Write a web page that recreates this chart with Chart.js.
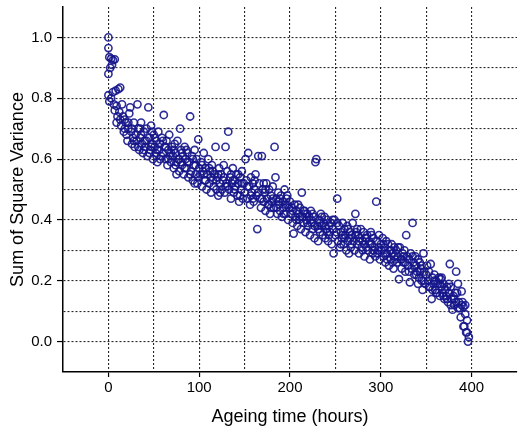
<!DOCTYPE html>
<html>
<head>
<meta charset="utf-8">
<script src="https://cdn.jsdelivr.net/npm/chart.js@4/dist/chart.umd.min.js"></script>
<style>
  html, body { margin: 0; padding: 0; background: #fff; }
  #wrap { width: 518px; height: 434px; }
</style>
</head>
<body>
<div id="wrap"><canvas id="c" width="518" height="434"></canvas></div>
<script>
// Ageing time (hours) / Sum of Square Variance
const earlyPhase = [
  [0,1.0],[0,0.965],[1,0.935],[3,0.93],[5,0.925],[7,0.928],[2,0.90],[4,0.91],[0,0.88],[0,0.81],
  [1,0.79],[3,0.80],[5,0.82],[8,0.825],[11,0.83],[13,0.835],[6,0.78],[7,0.76],[9,0.775],[10,0.74],
  [9,0.72],[12,0.755],[13,0.73],[14,0.71],[15,0.78],[16,0.74],[17,0.69],[18,0.70],[19,0.72],[20,0.68],
  [21,0.66],[22,0.70],[23,0.75],[24,0.77],[25,0.69],[26,0.65],[27,0.67],[28,0.72],[29,0.64],[30,0.68],
  [31,0.66],[32,0.78],[33,0.70],[34,0.63],[35,0.67],[36,0.72],[37,0.65],[38,0.62],[39,0.69],[40,0.66],
  [41,0.64],[42,0.70],[43,0.61],[44,0.77],[45,0.67],[46,0.63],[47,0.71],[48,0.65],[49,0.60],[50,0.68],
  [51,0.64],[52,0.62],[53,0.66],[54,0.59],[55,0.69],[56,0.63],[57,0.65],[58,0.61],[59,0.67],[60,0.62],
  [61,0.745],[62,0.64],[63,0.60],[64,0.66],[65,0.58],[66,0.63],[67,0.68],[68,0.61],[69,0.59],[70,0.64],
  [33,0.64],[36,0.68],[39,0.63],[42,0.66],[45,0.62],[48,0.69],[51,0.67],[54,0.63],[57,0.60],[60,0.66],
  [63,0.64],[66,0.60],[69,0.62],[26,0.70],[28,0.66],[22,0.72],[18,0.73],[35,0.70],[47,0.64],[53,0.61]
];
const midPhase = [
  [71,0.61],[72,0.57],[73,0.65],[74,0.62],[75,0.59],[76,0.66],[77,0.60],[78,0.56],[79,0.70],[80,0.63],
  [81,0.58],[82,0.61],[83,0.55],[84,0.64],[85,0.60],[86,0.57],[87,0.62],[88,0.54],[89,0.59],[90,0.74],
  [91,0.56],[92,0.61],[93,0.53],[94,0.58],[95,0.63],[96,0.55],[97,0.60],[98,0.52],[99,0.665],[100,0.57],
  [72,0.63],[75,0.55],[78,0.60],[81,0.62],[84,0.57],[87,0.59],[90,0.55],[93,0.60],[96,0.58],[99,0.54],
  [74,0.58],[86,0.63],[95,0.52],[80,0.59],
  [101,0.55],[102,0.59],[103,0.51],[104,0.56],[105,0.62],[106,0.53],[107,0.57],[108,0.50],[109,0.55],[110,0.60],
  [111,0.52],[112,0.56],[113,0.49],[114,0.58],[115,0.53],[116,0.51],[117,0.55],[118,0.64],[119,0.50],[120,0.54],
  [121,0.48],[122,0.57],[123,0.52],[124,0.55],[125,0.50],[126,0.53],[127,0.58],[128,0.49],[129,0.64],[130,0.52],
  [131,0.56],[132,0.69],[133,0.50],[134,0.54],[135,0.47],[136,0.52],[137,0.57],[138,0.49],[139,0.53],[140,0.51],
  [141,0.55],[142,0.48],[143,0.52],[144,0.46],[145,0.54],[146,0.50],[147,0.56],[148,0.47],[149,0.52],[150,0.49],
  [103,0.58],[107,0.53],[111,0.57],[115,0.56],[119,0.53],[123,0.49],[127,0.54],[131,0.51],[135,0.55],[139,0.50],
  [143,0.55],[147,0.52],[105,0.55],[113,0.54],[121,0.55],[129,0.51],[137,0.53],[145,0.48],
  [151,0.60],[152,0.53],[153,0.47],[154,0.62],[155,0.51],[156,0.45],[157,0.54],[158,0.49],[159,0.52],[160,0.46],
  [161,0.50],[162,0.55],[163,0.48],[164,0.37],[165,0.61],[166,0.52],[167,0.47],[168,0.44],[169,0.61],[170,0.50],
  [171,0.46],[172,0.49],[173,0.43],[174,0.52],[175,0.47],[176,0.45],[177,0.50],[178,0.42],[179,0.48],[180,0.46],
  [181,0.51],[182,0.44],[183,0.64],[184,0.54],[185,0.47],[186,0.42],[187,0.49],[188,0.45],[189,0.43],[190,0.48],
  [191,0.41],[192,0.46],[193,0.44],[194,0.50],[195,0.42],[196,0.47],[197,0.45],[198,0.40],[199,0.44],[200,0.46],
  [153,0.51],[157,0.48],[161,0.53],[165,0.49],[169,0.47],[173,0.50],[177,0.45],[181,0.47],[185,0.44],[189,0.47],
  [193,0.42],[197,0.48],[159,0.47],[171,0.52],[179,0.44],[187,0.46],[195,0.45]
];
const latePhase = [
  [201,0.42],[202,0.44],[203,0.39],[204,0.355],[205,0.45],[206,0.41],[207,0.43],[208,0.38],[209,0.42],[210,0.40],
  [211,0.44],[212,0.37],[213,0.49],[214,0.41],[215,0.39],[216,0.43],[217,0.36],[218,0.40],[219,0.42],[220,0.38],
  [221,0.41],[222,0.35],[223,0.43],[224,0.39],[225,0.37],[226,0.41],[227,0.34],[228,0.59],[229,0.60],[230,0.38],
  [231,0.33],[232,0.40],[233,0.36],[234,0.42],[235,0.38],[236,0.35],[237,0.39],[238,0.41],[239,0.34],[240,0.37],
  [241,0.40],[242,0.33],[243,0.38],[244,0.36],[245,0.39],[246,0.32],[247,0.37],[248,0.29],[249,0.40],[250,0.35],
  [203,0.43],[207,0.40],[211,0.41],[215,0.43],[219,0.39],[223,0.40],[227,0.38],[231,0.37],[235,0.41],[239,0.38],
  [243,0.35],[247,0.40],[209,0.45],[217,0.42],[225,0.42],[233,0.39],[241,0.36],[252,0.47],
  [251,0.36],[253,0.33],[254,0.38],[255,0.31],[256,0.36],[257,0.34],[258,0.39],[259,0.32],[260,0.37],[261,0.35],
  [262,0.30],[263,0.38],[264,0.33],[265,0.29],[266,0.36],[267,0.31],[268,0.35],[269,0.39],[270,0.33],[271,0.30],
  [272,0.42],[273,0.36],[274,0.32],[275,0.35],[276,0.29],[277,0.34],[278,0.37],[279,0.31],[280,0.33],[281,0.36],
  [282,0.28],[283,0.34],[284,0.31],[285,0.35],[286,0.30],[287,0.33],[288,0.27],[289,0.36],[290,0.32],[291,0.29],
  [292,0.34],[293,0.31],[294,0.28],[295,0.46],[296,0.33],[297,0.30],[298,0.35],[299,0.27],[300,0.32],
  [252,0.39],[256,0.32],[260,0.34],[264,0.37],[268,0.32],[272,0.35],[276,0.33],[280,0.30],[284,0.34],[288,0.32],
  [292,0.30],[296,0.29],[258,0.35],[266,0.34],[274,0.37],[282,0.32],[290,0.35],[298,0.31]
];
const endPhase = [
  [301,0.30],[302,0.34],[303,0.28],[304,0.31],[305,0.26],[306,0.33],[307,0.29],[308,0.32],[309,0.25],[310,0.30],
  [311,0.27],[312,0.32],[313,0.29],[314,0.24],[315,0.31],[316,0.27],[317,0.30],[318,0.26],[319,0.28],[320,0.205],
  [321,0.31],[322,0.27],[323,0.24],[324,0.29],[325,0.26],[326,0.30],[327,0.23],[328,0.35],[329,0.28],[330,0.25],
  [331,0.27],[332,0.195],[333,0.29],[334,0.24],[335,0.39],[336,0.26],[337,0.22],[338,0.28],[339,0.25],[340,0.23],
  [341,0.27],[342,0.21],[343,0.26],[344,0.24],[345,0.20],[346,0.17],[347,0.29],[348,0.23],[349,0.19],[350,0.22],
  [303,0.32],[307,0.27],[311,0.30],[315,0.28],[319,0.31],[323,0.27],[327,0.26],[331,0.23],[335,0.28],[339,0.22],
  [343,0.23],[347,0.20],[305,0.29],[313,0.26],[325,0.28],[337,0.25],[345,0.25],[341,0.19],
  [351,0.25],[352,0.20],[353,0.23],[354,0.18],[355,0.255],[356,0.14],[357,0.21],[358,0.19],[359,0.22],[360,0.17],
  [361,0.20],[362,0.16],[363,0.19],[364,0.21],[365,0.15],[366,0.205],[367,0.18],[368,0.16],[369,0.19],[370,0.14],
  [371,0.17],[372,0.15],[373,0.18],[374,0.13],[375,0.16],[376,0.255],[377,0.18],[378,0.14],[379,0.105],[380,0.15],
  [381,0.12],[382,0.16],[383,0.23],[384,0.16],[385,0.19],[386,0.13],[387,0.11],[388,0.08],[389,0.165],[390,0.13],
  [391,0.115],[392,0.05],[393,0.09],[394,0.03],[395,0.07],[396,0.0],[397,0.015],[391,0.05],[395,0.03],[393,0.12],
  [353,0.18],[357,0.17],[361,0.16],[365,0.19],[369,0.15],[373,0.14],[377,0.12],[381,0.14],[385,0.11],[389,0.12],
  [359,0.20],[367,0.21],[375,0.19],[383,0.13]
];

const xTitle = 'Ageing time (hours)';
const yTitle = 'Sum of Square Variance';
const xMajorTicks = [0, 100, 200, 300, 400];
const yMajorTicks = [0.0, 0.2, 0.4, 0.6, 0.8, 1.0];

const allSamples = [].concat(earlyPhase, midPhase, latePhase, endPhase);
const points = allSamples.map(p => ({ x: p[0], y: p[1] }));

const FONT = "'Liberation Sans', Arial, sans-serif";
const GRID = 'rgba(30,30,30,0.95)';

function isMajorX(v) { return xMajorTicks.some(t => Math.abs(t - v) < 1e-6); }
function isMajorY(v) { return yMajorTicks.some(t => Math.abs(t - v) < 1e-6); }

new Chart(document.getElementById('c'), {
  type: 'scatter',
  data: {
    datasets: [{
      data: points,
      pointStyle: 'circle',
      pointRadius: 3.6,
      pointBorderWidth: 1.6,
      pointBorderColor: 'rgba(22,22,140,0.9)',
      pointBackgroundColor: 'rgba(255,255,255,0)',
      pointHoverRadius: 3.6
    }]
  },
  options: {
    responsive: false,
    animation: false,
    devicePixelRatio: 1,
    layout: { autoPadding: false, padding: { top: 7, right: 1, left: 0, bottom: 0 } },
    plugins: { legend: { display: false }, tooltip: { enabled: false } },
    scales: {
      x: {
        type: 'linear',
        min: -50, max: 450,
        afterFit: s => { s.height = 62; s.paddingLeft = 0; s.paddingRight = 0; },
        ticks: {
          stepSize: 50, autoSkip: false, maxRotation: 0, padding: 2,
          color: '#000', font: { family: FONT, size: 15 },
          callback: v => (isMajorX(v) ? String(v) : '')
        },
        grid: {
          drawOnChartArea: true, drawTicks: true, tickLength: 5,
          lineWidth: 1.1,
          color: ctx => (ctx.index === 0 || (ctx.tick && ctx.tick.value >= 450)) ? 'rgba(0,0,0,0)' : GRID,
          tickColor: ctx => (ctx.tick && isMajorX(ctx.tick.value)) ? '#000' : 'rgba(0,0,0,0)',
          tickWidth: 1.2
        },
        border: { display: true, color: '#000', width: 1.5, dash: [2, 2] },
        title: { display: true, text: xTitle, color: '#000', font: { family: FONT, size: 18 }, padding: { top: 2, bottom: 6 } }
      },
      y: {
        type: 'linear',
        min: -0.1, max: 1.1,
        afterFit: s => { s.width = 63; s.paddingTop = 0; s.paddingBottom = 0; },
        ticks: {
          stepSize: 0.1, autoSkip: false, padding: 5,
          color: '#000', font: { family: FONT, size: 15 },
          callback: v => (isMajorY(v) ? Number(v).toFixed(1) : '')
        },
        grid: {
          drawOnChartArea: true, drawTicks: true, tickLength: 6,
          lineWidth: 1.1,
          color: ctx => (ctx.index === 0 || (ctx.tick && ctx.tick.value > 1.05)) ? 'rgba(0,0,0,0)' : GRID,
          tickColor: ctx => (ctx.tick && isMajorY(ctx.tick.value)) ? '#000' : 'rgba(0,0,0,0)',
          tickWidth: 1.2
        },
        border: { display: true, color: '#000', width: 1.5, dash: [2, 2] },
        title: { display: true, text: yTitle, color: '#000', font: { family: FONT, size: 18 }, padding: { top: 7, bottom: 2 } }
      }
    }
  }
});
</script>
</body>
</html>
